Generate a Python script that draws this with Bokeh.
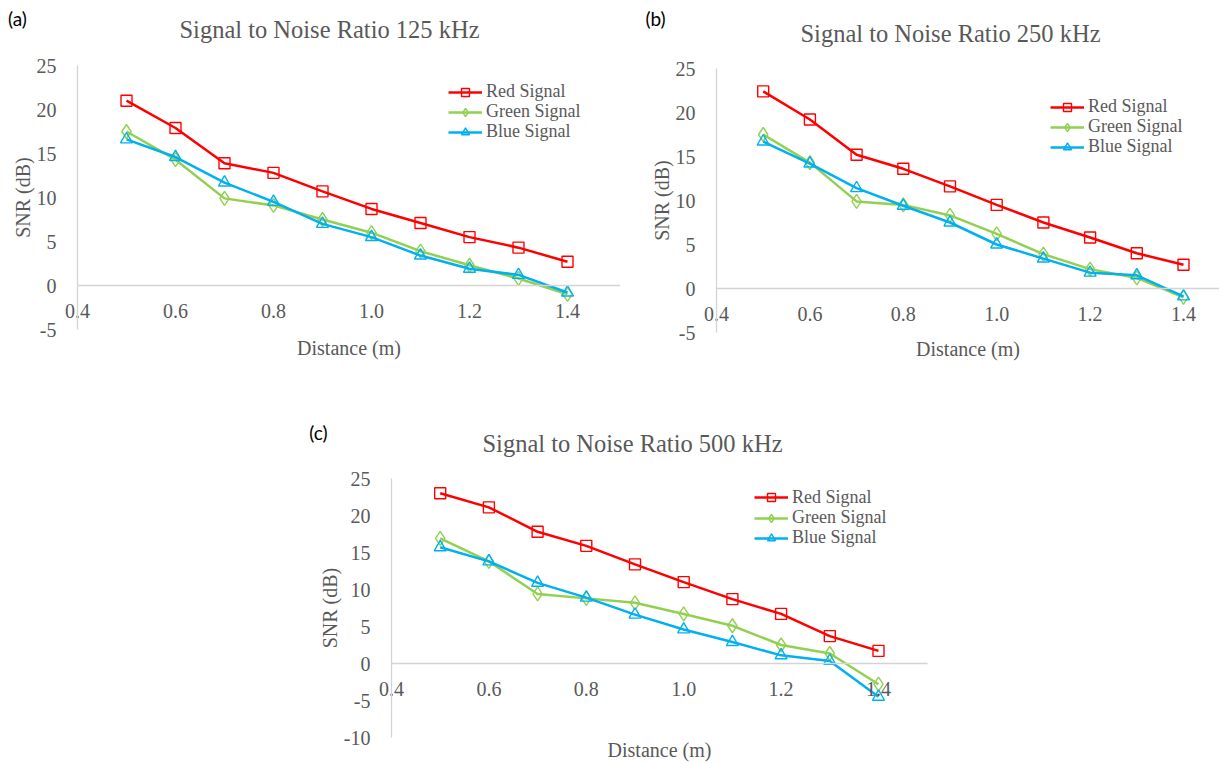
from bokeh.plotting import figure
from bokeh.models import (Range1d, FixedTicker, NumeralTickFormatter, Legend,
                          LegendItem, Label, Spacer)
from bokeh.layouts import row, column
from bokeh.embed import file_html
from bokeh.resources import INLINE

# ---------------- data ----------------
distance = [0.5, 0.6, 0.7, 0.8, 0.9, 1.0, 1.1, 1.2, 1.3, 1.4]

red_125 = [21.0, 17.9, 13.9, 12.8, 10.7, 8.7, 7.1, 5.5, 4.3, 2.7]
green_125 = [17.5, 14.3, 9.9, 9.1, 7.5, 6.0, 3.9, 2.3, 0.8, -1.0]
blue_125 = [16.6, 14.6, 11.7, 9.5, 7.0, 5.5, 3.4, 1.9, 1.2, -0.8]

red_250 = [22.4, 19.2, 15.2, 13.6, 11.6, 9.5, 7.5, 5.8, 4.0, 2.7]
green_250 = [17.5, 14.3, 9.9, 9.5, 8.3, 6.2, 3.9, 2.2, 1.2, -1.0]
blue_250 = [16.7, 14.2, 11.4, 9.4, 7.5, 5.0, 3.4, 1.8, 1.5, -0.9]

red_500 = [23.0, 21.1, 17.8, 15.9, 13.4, 11.0, 8.7, 6.7, 3.7, 1.7]
green_500 = [16.9, 13.8, 9.4, 8.8, 8.2, 6.7, 5.1, 2.5, 1.35, -2.8]
blue_500 = [15.7, 13.8, 10.9, 8.9, 6.6, 4.6, 2.9, 1.1, 0.35, -4.5]

x_ticks = [0.4, 0.6, 0.8, 1.0, 1.2, 1.4]
y_ticks_ab = [-5, 0, 5, 10, 15, 20, 25]
y_ticks_c = [-10, -5, 0, 5, 10, 15, 20, 25]

series_names = ["Red Signal", "Green Signal", "Blue Signal"]
series_colors = ["#FF0000", "#92D050", "#00B0F0"]
series_markers = ["square", "diamond", "triangle"]
series_sizes = [11, 14, 12]

TEXT = "#595959"
AXIS = "#d4d4d4"
SERIF = "Liberation Serif"

# ---------------- layout geometry (page pixels) ----------------
GEOM = {
    "a": dict(left=0, top=0, width=620, height=408, x0px=77, ppx=490,
              ytop_px=65, ppy=8.8, ymin=-5, xbound=None,
              title_xy=(329, 29), letter_xy=(17, 18),
              legend_x=448, legend_rows=(92, 112, 132),
              xlabel_standoff=16),
    "b": dict(left=620, top=0, width=599, height=408, x0px=96, ppx=467,
              ytop_px=68, ppy=8.8, ymin=-5, xbound=None,
              title_xy=(950, 33), letter_xy=(655, 18),
              legend_x=1050, legend_rows=(107.2, 127.2, 147.2),
              xlabel_standoff=14),
    "c": dict(left=300, top=408, width=632, height=354, x0px=91, ppx=487,
              ytop_px=70, ppy=7.4, ymin=-10, xbound=1.5,
              title_xy=(632, 443), letter_xy=(318, 432),
              legend_x=754, legend_rows=(497.7, 518, 538.3),
              xlabel_standoff=40),
}


def make_panel(title, letter, reds, greens, blues, y_ticks, g):
    W, H = g["width"], g["height"]
    x_start = 0.4 - g["x0px"] / g["ppx"]
    x_end = 0.4 + (W - g["x0px"]) / g["ppx"]
    y_end = 25 + g["ytop_px"] / g["ppy"]
    y_start = 25 - (H - g["ytop_px"]) / g["ppy"]
    bottom_page = g["top"] + H

    def sx(px):
        return px - g["left"]

    def sy(py):
        return bottom_page - py

    p = figure(width=W, height=H, output_backend="svg",
               toolbar_location=None,
               x_range=Range1d(x_start, x_end), y_range=Range1d(y_start, y_end),
               min_border_left=0, min_border_top=0,
               min_border_right=0, min_border_bottom=0)
    p.outline_line_color = None
    p.xgrid.visible = False
    p.ygrid.visible = False
    p.background_fill_color = "white"
    p.border_fill_color = "white"

    xa = p.xaxis[0]
    xa.fixed_location = 0
    xa.bounds = (0.4, g["xbound"] if g["xbound"] else x_end)
    xa.ticker = FixedTicker(ticks=x_ticks)
    xa.formatter = NumeralTickFormatter(format="0.0")
    xa.axis_label = "Distance (m)"
    xa.axis_label_standoff = g["xlabel_standoff"]
    xa.major_label_standoff = 12

    ya = p.yaxis[0]
    ya.fixed_location = 0.4
    ya.bounds = (g["ymin"], 25)
    ya.ticker = FixedTicker(ticks=y_ticks)
    ya.formatter = NumeralTickFormatter(format="0")
    ya.axis_label = "SNR (dB)"
    ya.axis_label_standoff = 0
    ya.major_label_standoff = 15

    for ax in (xa, ya):
        ax.axis_line_color = AXIS
        ax.axis_line_width = 1.3
        ax.major_tick_line_color = None
        ax.minor_tick_line_color = None
        ax.major_label_text_font = SERIF
        ax.major_label_text_font_size = "20px"
        ax.major_label_text_color = TEXT
        ax.axis_label_text_font = SERIF
        ax.axis_label_text_font_size = "20px"
        ax.axis_label_text_font_style = "normal"
        ax.axis_label_text_color = TEXT

    for name, col, mk, sz, ys, yc in zip(series_names, series_colors,
                                         series_markers, series_sizes,
                                         [reds, greens, blues],
                                         g["legend_rows"]):
        ln = p.line(distance, ys, line_color=col, line_width=2.5)
        sc = p.scatter(distance, ys, marker=mk, size=sz,
                       line_color=col, line_width=1.4, fill_color=None)
        leg = Legend(items=[LegendItem(label=name, renderers=[ln, sc])],
                     location=(sx(g["legend_x"]), sy(yc + 10)),
                     orientation="vertical",
                     glyph_width=34, glyph_height=20, label_height=20,
                     label_standoff=4, spacing=0, padding=0, margin=0,
                     border_line_color=None, background_fill_alpha=0,
                     label_text_font=SERIF, label_text_font_size="18px",
                     label_text_color=TEXT)
        p.add_layout(leg)

    tx, ty = g["title_xy"]
    p.add_layout(Label(x=sx(tx), y=sy(ty), x_units="screen", y_units="screen",
                       text=title, text_align="center", text_baseline="middle",
                       text_font=SERIF, text_font_size="24.5px",
                       text_color=TEXT))
    lx, ly = g["letter_xy"]
    p.add_layout(Label(x=sx(lx), y=sy(ly), x_units="screen", y_units="screen",
                       text=letter, text_align="center", text_baseline="middle",
                       text_font="Lato", text_font_size="19px",
                       text_color="#000000"))
    return p


pa = make_panel("Signal to Noise Ratio 125 kHz", "(a)",
                red_125, green_125, blue_125, y_ticks_ab, GEOM["a"])
pb = make_panel("Signal to Noise Ratio 250 kHz", "(b)",
                red_250, green_250, blue_250, y_ticks_ab, GEOM["b"])
pc = make_panel("Signal to Noise Ratio 500 kHz", "(c)",
                red_500, green_500, blue_500, y_ticks_c, GEOM["c"])

spacer_w = GEOM["c"]["left"] - GEOM["a"]["left"]
layout = column(row(pa, pb),
                row(Spacer(width=spacer_w, height=GEOM["c"]["height"]), pc))

open("out.html", "w").write(file_html(layout, INLINE))
